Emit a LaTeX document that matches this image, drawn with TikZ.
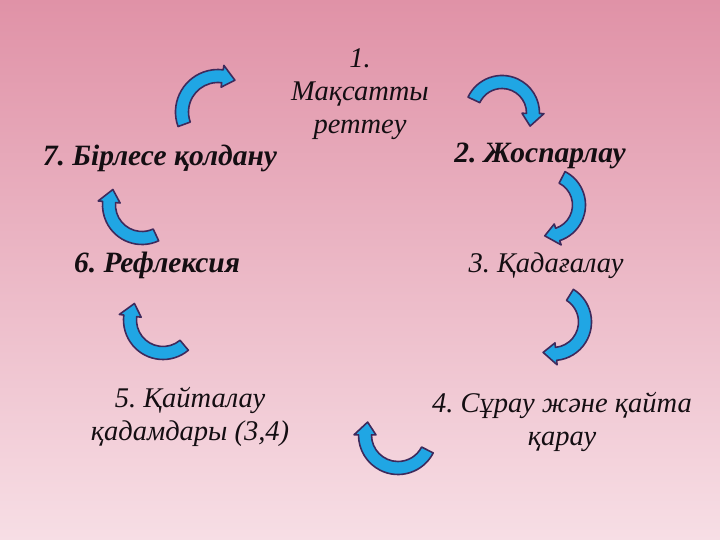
\documentclass[tikz,border=0pt]{standalone}
\usepackage{fontspec}
\setmainfont{Liberation Serif}
\usepackage{tikz}
\definecolor{bgtop}{RGB}{224,146,167}
\definecolor{bgbottom}{RGB}{247,222,229}
\definecolor{arrowblue}{RGB}{32,166,228}
\definecolor{arrowrim}{RGB}{62,42,92}
\definecolor{textdark}{RGB}{20,14,18}

\begin{document}
\frenchspacing
\begin{tikzpicture}[x=1pt,y=1pt]
                \tikzstyle{stage}=[align=center, text=textdark, inner sep=0pt, font=\fontsize{28.5}{33}\selectfont\itshape]
                \tikzstyle{boldstage}=[stage, font=\fontsize{29.5}{33}\selectfont\bfseries\itshape]
                \tikzstyle{cyclearrow}=[fill=arrowblue, draw=arrowrim, line width=1.6pt, line join=round]

                \shade[top color=bgtop, bottom color=bgbottom] (0,0) rectangle (720,540);
                \useasboundingbox (0,0) rectangle (720,540);

                \node[stage] (goal) at (360,446) {1.\\Мақсатты\\реттеу};
                \node[boldstage] (plan) at (540,384) {2. Жоспарлау};
                \node[stage] (monitor) at (546,274) {3. Қадағалау};
                \node[stage] (review) at (562,118) {4. Сұрау және қайта\\қарау};
                \node[stage] (repeat) at (190,123) {5. Қайталау\\қадамдары (3,4)};
                \node[boldstage] (reflect) at (157,275) {6. Рефлексия};
                \node[boldstage] (apply) at (160,382) {7. Бірлесе қолдану};

                \foreach \cx/\cy/\r/\a/\b in {218/428/36/200/62, 502/427/31/155/-25, 548/335/31/63/-96, 553/218/32/58/-108, 398/105/33/-27/-203, 163/220/33/-50/-210, 142/335/33/-65/-208}
                {
                    \pgfmathsetmacro{\m}{\b+750/\r}
                    \begin{scope}[shift={(\cx,\cy)}]
                        \filldraw[cyclearrow] ({\a}:{\r+6.5}) arc[start angle=\a, end angle=\m, radius=\r+6.5] -- ({\m}:{\r+11}) -- ({\b}:{\r}) -- ({\m}:{\r-11}) -- ({\m}:{\r-6.5}) arc[start angle=\m, end angle=\a, radius=\r-6.5] -- cycle;
                    \end{scope}
                }
            \end{tikzpicture}
\end{document}
